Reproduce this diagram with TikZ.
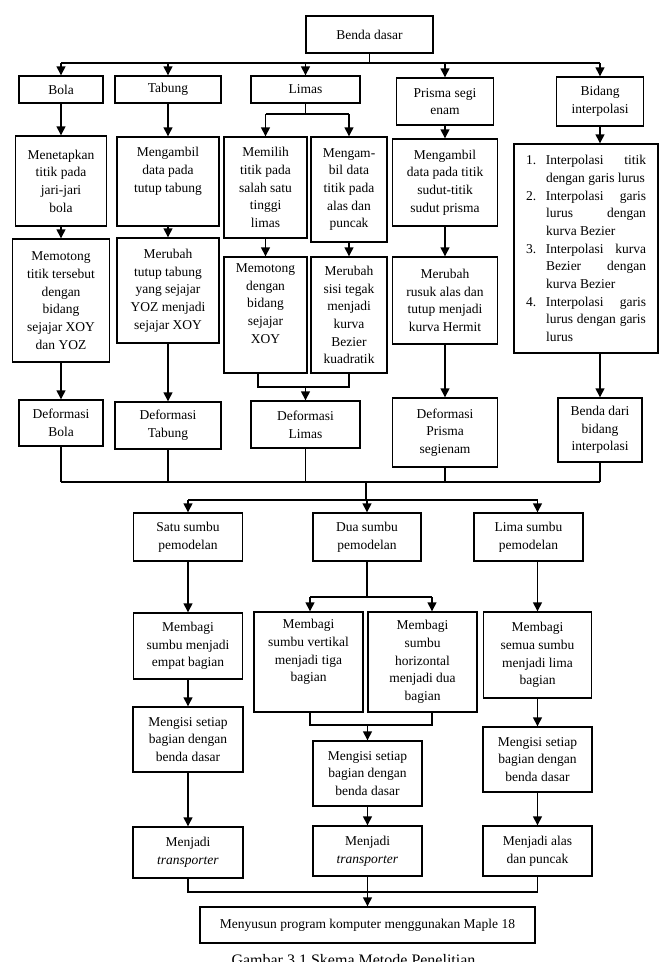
\documentclass[tikz,border=0pt]{standalone}
\usepackage{fontspec}
\setmainfont{Liberation Serif}
\usetikzlibrary{arrows.meta,positioning}

\newcommand{\listitem}[2]{\hangindent=20pt\hangafter=1\noindent\makebox[20pt][l]{#1}#2\par}

\begin{document}
\begin{tikzpicture}[x=1pt, y=-1pt,
  box/.style={draw, line width=1.4pt, align=center, inner sep=2pt,
              font=\fontsize{13.5}{17.7}\selectfont, fill=white},
  sz/.style 2 args={minimum width=#1pt, minimum height=#2pt},
  arr/.style={-{Triangle[length=9pt,width=9pt]}, line width=1.4pt},
  ln/.style={line width=1.4pt}]
  \useasboundingbox (0,0) rectangle (666,962);
  % top level
  \node[box, sz={127}{37}] (dasar) at (369.5,34.5) {Benda dasar};
  \node[box, sz={84}{27}] (bola) at (61,89.5) {Bola};
  \node[box, sz={106}{27}] (tabung) at (168,89.5) {Tabung};
  \node[box, sz={109}{27}] (limas) at (305.5,89.5) {Limas};
  \node[box, sz={97}{47}] (prisma) at (445,101.5) {Prisma segi\\enam};
  \node[box, sz={87}{49}] (bidang) at (600,101.5) {Bidang\\interpolasi};
  % bola
  \node[box, sz={91}{90}] (tetap) at (61,181) {Menetapkan\\titik pada\\jari-jari\\bola};
  \node[box, sz={97}{123}] (potong) at (61,300.5) {Memotong\\titik tersebut\\dengan\\bidang\\sejajar XOY\\dan YOZ};
  \node[box, sz={84}{46}] (defbola) at (61,423) {Deformasi\\Bola};
  % tabung
  \node[box, sz={102}{89}] (ambiltutup) at (168,181.5) {Mengambil\\data pada\\tutup tabung\\\strut};
  \node[box, sz={102}{105}] (ubahtutup) at (168,290.5) {Merubah\\tutup tabung\\yang sejajar\\YOZ menjadi\\sejajar XOY};
  \node[box, sz={106}{47}] (deftabung) at (168,425.5) {Deformasi\\Tabung};
  % limas
  \node[box, sz={83}{101}] (pilih) at (265.5,187.5) {Memilih\\titik pada\\salah satu\\tinggi\\limas};
  \node[box, sz={76}{105}] (ambilalas) at (349,189.5) {Mengam-\\bil data\\titik pada\\alas dan\\puncak};
  \node[box, sz={83}{116}] (potonglimas) at (265.5,315) {Memotong\\dengan\\bidang\\sejajar\\XOY\\\strut};
  \node[box, sz={76}{116}] (ubahsisi) at (349,315) {Merubah\\sisi tegak\\menjadi\\kurva\\Bezier\\kuadratik};
  \node[box, sz={109}{47}] (deflimas) at (305.5,424.5) {Deformasi\\Limas};
  % prisma
  \node[box, sz={105}{87}] (ambiltitik) at (445,182.5) {Mengambil\\data pada titik\\sudut-titik\\sudut prisma};
  \node[box, sz={105}{87}] (ubahrusuk) at (445,300.5) {Merubah\\rusuk alas dan\\tutup menjadi\\kurva Hermit};
  \node[box, sz={105}{69}] (defprisma) at (445,432.5) {Deformasi\\Prisma\\segienam};
  % bidang interpolasi
  \node[box, sz={144}{209}, text width=120pt, align=justify, inner sep=0pt] (interp) at (586,248.5)
    {\parindent=0pt\hyphenpenalty=10000\emergencystretch=10pt
     \listitem{1.}{Interpolasi titik dengan garis lurus}
     \listitem{2.}{Interpolasi garis lurus dengan kurva Bezier}
     \listitem{3.}{Interpolasi kurva Bezier dengan kurva Bezier}
     \listitem{4.}{Interpolasi garis lurus dengan garis lurus}};
  \node[box, sz={84}{64}] (bendadari) at (600,430) {Benda dari\\bidang\\interpolasi};
  % pemodelan
  \node[box, sz={109}{48}] (satu) at (188,537) {Satu sumbu\\pemodelan};
  \node[box, sz={108}{48}] (dua) at (367,537) {Dua sumbu\\pemodelan};
  \node[box, sz={109}{48}] (lima) at (528.5,537) {Lima sumbu\\pemodelan};
  \node[box, sz={109}{66}] (bagiempat) at (188,646) {Membagi\\sumbu menjadi\\empat bagian};
  \node[box, sz={109}{100}] (bagivert) at (308.5,662) {Membagi\\sumbu vertikal\\menjadi tiga\\bagian\\\strut};
  \node[box, sz={109}{100}] (bagihoriz) at (422.5,662) {Membagi\\sumbu\\horizontal\\menjadi dua\\bagian};
  \node[box, sz={108}{86}] (bagilima) at (537.5,655) {Membagi\\semua sumbu\\menjadi lima\\bagian};
  \node[box, sz={110}{65}] (isisatu) at (188,739.5) {Mengisi setiap\\bagian dengan\\benda dasar};
  \node[box, sz={109}{65}] (isidua) at (367.5,773.5) {Mengisi setiap\\bagian dengan\\benda dasar};
  \node[box, sz={109}{65}] (isilima) at (537.5,759.5) {Mengisi setiap\\bagian dengan\\benda dasar};
  \node[box, sz={110}{51}] (jadisatu) at (188,852.5) {Menjadi\\\textit{transporter}};
  \node[box, sz={109}{50}] (jadidua) at (367.5,851) {Menjadi\\\textit{transporter}};
  \node[box, sz={109}{50}] (jadilima) at (537.5,851) {Menjadi alas\\dan puncak};
  \node[box, sz={335}{36}] (maple) at (367.5,925) {Menyusun program komputer menggunakan Maple 18};
  \node[font=\fontsize{16}{19}\selectfont, anchor=north] (cap) at (353.5,951) {Gambar 3.1 Skema Metode Penelitian};

  % connectors, top
  \coordinate (top) at (0,63);
  \draw[ln] (dasar) -- (dasar|-top);
  \draw[ln] (bola.north|-top) -- (bidang.north|-top);
  \foreach \n in {bola,tabung,limas,prisma,bidang}
    \draw[arr] (\n.north|-top) -- (\n);
  \draw[arr] (bola) -- (tetap); \draw[arr] (tetap) -- (potong); \draw[arr] (potong) -- (defbola);
  \draw[arr] (tabung) -- (ambiltutup); \draw[arr] (ambiltutup) -- (ubahtutup); \draw[arr] (ubahtutup) -- (deftabung);
  \draw[arr] (prisma) -- (ambiltitik); \draw[arr] (ambiltitik) -- (ubahrusuk); \draw[arr] (ubahrusuk) -- (defprisma);
  \draw[arr] (bidang) -- (bidang|-interp.north);
  \draw[arr] (bendadari|-interp.south) -- (bendadari);
  % limas split and join
  \coordinate (s3) at (0,114);
  \draw[ln] (limas) -- (limas|-s3);
  \draw[ln] (pilih|-s3) -- (ambilalas|-s3);
  \draw[arr] (pilih|-s3) -- (pilih); \draw[arr] (ambilalas|-s3) -- (ambilalas);
  \draw[arr] (pilih) -- (potonglimas); \draw[arr] (ambilalas) -- (ubahsisi);
  \coordinate (j3) at (258,387);
  \draw[ln] (j3|-potonglimas.south) -- (j3) -- (ubahsisi.south|-j3) -- (ubahsisi.south);
  \draw[arr] (deflimas|-j3) -- (deflimas);
  % merge of deformations
  \coordinate (mrg) at (0,482);
  \foreach \n in {defbola,deftabung,deflimas,defprisma,bendadari}
    \draw[ln] (\n) -- (\n|-mrg);
  \draw[ln] (defbola|-mrg) -- (bendadari|-mrg);
  \coordinate (spl) at (366,500);
  \draw[ln] (spl|-mrg) -- (spl);
  \draw[ln] (satu|-spl) -- (bagilima|-spl);
  \draw[arr] (satu|-spl) -- (satu);
  \draw[arr] (dua|-spl) -- (dua);
  \draw[arr] (bagilima|-spl) -- (lima.north-|bagilima);
  % satu sumbu
  \draw[arr] (satu) -- (bagiempat); \draw[arr] (bagiempat) -- (isisatu); \draw[arr] (isisatu) -- (jadisatu);
  % dua sumbu
  \coordinate (v1) at (310,597); \coordinate (v2) at (432,597);
  \draw[ln] (dua) -- (dua|-v1);
  \draw[ln] (v1) -- (v2);
  \draw[arr] (v1) -- (v1|-bagivert.north); \draw[arr] (v2) -- (v2|-bagihoriz.north);
  \coordinate (j2) at (0,725);
  \draw[ln] (v1|-bagivert.south) -- (v1|-j2) -- (v2|-j2) -- (v2|-bagihoriz.south);
  \draw[arr] (isidua|-j2) -- (isidua);
  \draw[arr] (isidua) -- (jadidua);
  % lima sumbu
  \draw[arr] (lima.south-|bagilima) -- (bagilima); \draw[arr] (bagilima) -- (isilima); \draw[arr] (isilima) -- (jadilima);
  % final merge
  \coordinate (j4) at (0,892);
  \draw[ln] (jadisatu) -- (jadisatu|-j4) -- (jadilima|-j4) -- (jadilima);
  \draw[arr] (jadidua) -- (maple);
\end{tikzpicture}
\end{document}
